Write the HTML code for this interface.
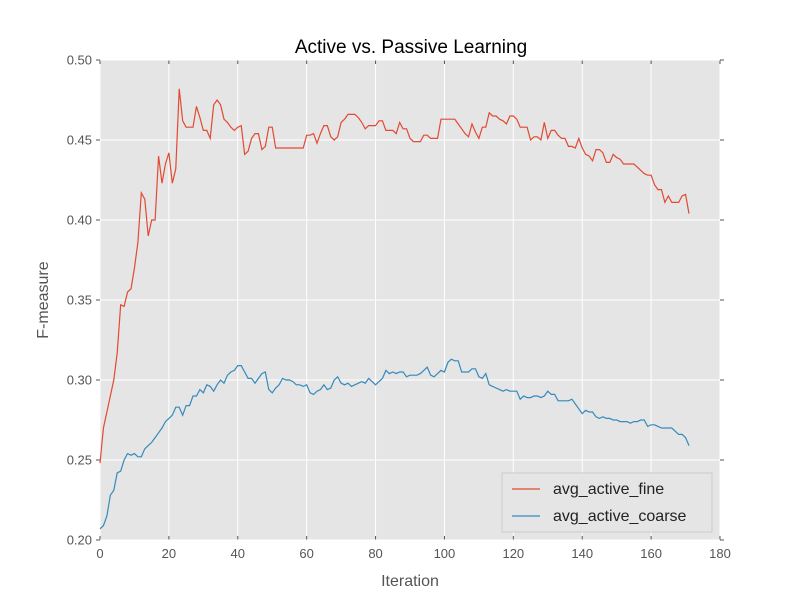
<!DOCTYPE html>
<html><head><meta charset="utf-8"><style>
body{margin:0;background:#fff;font-family:"Liberation Sans","DejaVu Sans",sans-serif;}
</style></head><body>
<svg id="c" width="800" height="600" xmlns="http://www.w3.org/2000/svg"></svg>
<script>
const xTicks=[0,20,40,60,80,100,120,140,160,180];
const yTicks=[0.20,0.25,0.30,0.35,0.40,0.45,0.50];
const seriesNames=["avg_active_fine","avg_active_coarse"];
const fine=[0.248,0.27,0.28,0.29,0.30,0.317,0.347,0.346,0.355,0.357,0.37,0.386,0.417,0.413,0.39,0.40,0.40,0.44,0.423,0.435,0.442,0.423,0.432,0.482,0.462,0.458,0.458,0.458,0.471,0.464,0.456,0.456,0.451,0.472,0.475,0.472,0.463,0.461,0.458,0.456,0.458,0.459,0.441,0.443,0.451,0.454,0.454,0.444,0.446,0.458,0.458,0.445,0.445,0.445,0.445,0.445,0.445,0.445,0.445,0.445,0.453,0.453,0.454,0.448,0.454,0.459,0.459,0.452,0.450,0.452,0.461,0.463,0.466,0.466,0.466,0.464,0.461,0.457,0.459,0.459,0.459,0.462,0.462,0.456,0.456,0.456,0.454,0.461,0.457,0.457,0.451,0.449,0.449,0.449,0.453,0.453,0.451,0.451,0.451,0.463,0.463,0.463,0.463,0.463,0.460,0.457,0.454,0.452,0.460,0.455,0.451,0.458,0.458,0.467,0.465,0.465,0.463,0.462,0.460,0.465,0.465,0.463,0.458,0.458,0.458,0.450,0.452,0.452,0.450,0.461,0.451,0.456,0.456,0.453,0.451,0.451,0.446,0.446,0.445,0.451,0.445,0.441,0.440,0.437,0.444,0.444,0.442,0.436,0.436,0.441,0.439,0.438,0.435,0.435,0.435,0.435,0.433,0.431,0.429,0.428,0.428,0.422,0.419,0.419,0.411,0.415,0.411,0.411,0.411,0.415,0.416,0.404];
const coarse=[0.207,0.209,0.215,0.228,0.231,0.242,0.243,0.250,0.254,0.253,0.254,0.252,0.252,0.257,0.259,0.261,0.264,0.267,0.270,0.274,0.276,0.278,0.283,0.283,0.278,0.284,0.284,0.290,0.290,0.294,0.292,0.297,0.296,0.293,0.297,0.300,0.298,0.303,0.305,0.306,0.309,0.309,0.305,0.301,0.301,0.298,0.301,0.304,0.305,0.294,0.292,0.295,0.297,0.301,0.300,0.300,0.299,0.297,0.297,0.296,0.297,0.292,0.291,0.293,0.294,0.297,0.294,0.295,0.300,0.302,0.298,0.297,0.298,0.296,0.297,0.298,0.299,0.298,0.301,0.299,0.297,0.299,0.301,0.306,0.304,0.305,0.304,0.305,0.305,0.302,0.303,0.303,0.303,0.304,0.306,0.308,0.303,0.302,0.304,0.306,0.305,0.311,0.313,0.312,0.312,0.305,0.305,0.305,0.307,0.307,0.302,0.301,0.304,0.297,0.296,0.295,0.294,0.293,0.294,0.293,0.293,0.293,0.288,0.290,0.289,0.289,0.290,0.290,0.289,0.290,0.293,0.291,0.291,0.287,0.287,0.287,0.287,0.288,0.285,0.282,0.279,0.281,0.280,0.280,0.277,0.276,0.277,0.276,0.276,0.275,0.275,0.274,0.274,0.274,0.273,0.274,0.274,0.275,0.275,0.271,0.272,0.272,0.271,0.270,0.270,0.270,0.270,0.268,0.266,0.266,0.264,0.259];
const NS="http://www.w3.org/2000/svg",svg=document.getElementById('c');
const L=100,R=720,T=60,B=540;
const xs=v=>L+(v-0)/(180-0)*(R-L);
const ys=v=>B-(v-0.2)/(0.5-0.2)*(B-T);
function mk(t,a,txt){const e=document.createElementNS(NS,t);for(const k in a)e.setAttribute(k,a[k]);if(txt!==undefined)e.textContent=txt;svg.appendChild(e);return e;}
let bg=mk('rect',{x:L,y:T,width:R-L,height:B-T,fill:'#e5e5e5'});


xTicks.forEach(t=>{
 let g=mk('line',{x1:xs(t),x2:xs(t),y1:T,y2:B,stroke:'#fff','stroke-width':1});
 
 
 mk('line',{x1:xs(t),x2:xs(t),y1:B,y2:B-4,stroke:'#555'});
 mk('line',{x1:xs(t),x2:xs(t),y1:T,y2:T+4,stroke:'#555'});
 let l=mk('text',{x:xs(t),y:B+18,'text-anchor':'middle','font-size':13,fill:'#555'},String(t));
 
 
});
yTicks.forEach(t=>{
 let g=mk('line',{x1:L,x2:R,y1:ys(t),y2:ys(t),stroke:'#fff','stroke-width':1});
 
 
 mk('line',{x1:L-4,x2:L,y1:ys(t),y2:ys(t),stroke:'#555'});
 mk('line',{x1:R,x2:R+4,y1:ys(t),y2:ys(t),stroke:'#555'});
 let l=mk('text',{x:L-8,y:ys(t)+4.5,'text-anchor':'end','font-size':13,fill:'#555'},t.toFixed(2));
 
 
});
function line(arr,color,name){
 const d=arr.map((v,i)=>(i?'L':'M')+xs(i).toFixed(2)+','+ys(v).toFixed(2)).join('');
 let p=mk('path',{d:d,fill:'none',stroke:color,'stroke-width':1.2});
 
 
}
line(fine,'#e24a33','line-avg-active-fine');
line(coarse,'#348abd','line-avg-active-coarse');
let ti=mk('text',{x:411,y:53,'text-anchor':'middle','font-size':19,fill:'#000'},'Active vs. Passive Learning');


let xl=mk('text',{x:410,y:586,'text-anchor':'middle','font-size':16,fill:'#555'},'Iteration');


let yl=mk('text',{x:48,y:300,'text-anchor':'middle','font-size':16,fill:'#555',transform:'rotate(-90 48 300)'},'F-measure');


let lg=mk('rect',{x:502,y:473,width:210,height:59,fill:'#e5e5e5',stroke:'#ccc'});


[['#e24a33',489],['#348abd',516]].forEach((c,i)=>{
 mk('line',{x1:512,x2:540,y1:c[1],y2:c[1],stroke:c[0],'stroke-width':1.2});
 let t=mk('text',{x:553,y:c[1]+5,'font-size':16,fill:'#222'},seriesNames[i]);
 
 
});
</script>
</body></html>
